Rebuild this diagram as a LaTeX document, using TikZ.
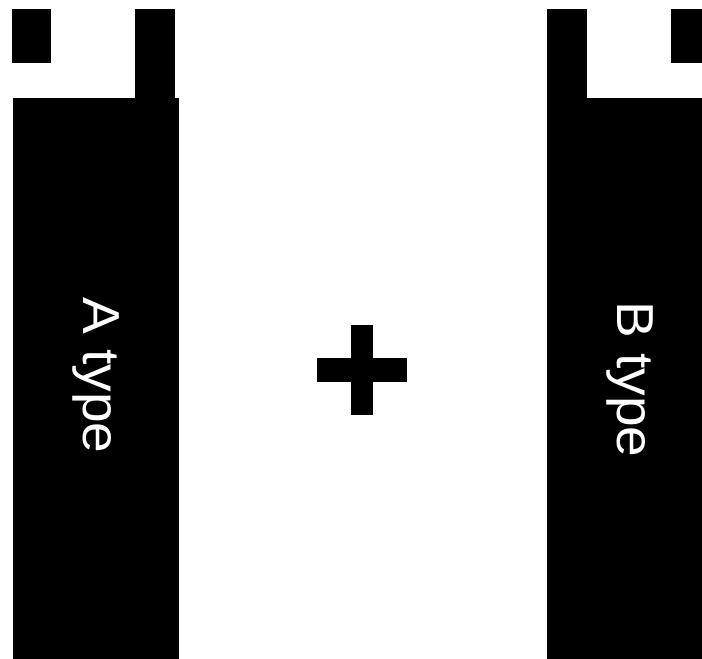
\documentclass[tikz,border=0pt]{standalone}
\usepackage{fontspec}
\setmainfont{Liberation Sans}
\newfontfamily\lblfont[FakeStretch=1.06]{Liberation Sans}
\begin{document}
\begin{tikzpicture}[x=1pt,y=-1pt,
  blk/.style={fill=black,draw=none},
  lbl/.style={text=white,rotate=-90,anchor=base west,inner sep=0pt,font=\lblfont\fontsize{52}{60}\selectfont}]
\useasboundingbox (0,0) rectangle (702,659);
% left part
\fill[blk] (11.5,9.3) rectangle (51,63);
\fill[blk] (135,9.3) rectangle (174.5,98);
\fill[blk] (13.3,97.7) rectangle (179,659);
% right part
\fill[blk] (547,9.3) rectangle (587,98);
\fill[blk] (547,97.7) rectangle (702,659);
\fill[blk] (670.7,9.3) rectangle (702,63);
% plus
\fill[blk] (350.7,325) rectangle (373.3,415);
\fill[blk] (317.3,358.3) rectangle (407.3,381.7);
% labels
\node[lbl] (a) at (83,297) {A type};
\node[lbl] (b) at (617,301) {B type};
\end{tikzpicture}
\end{document}
